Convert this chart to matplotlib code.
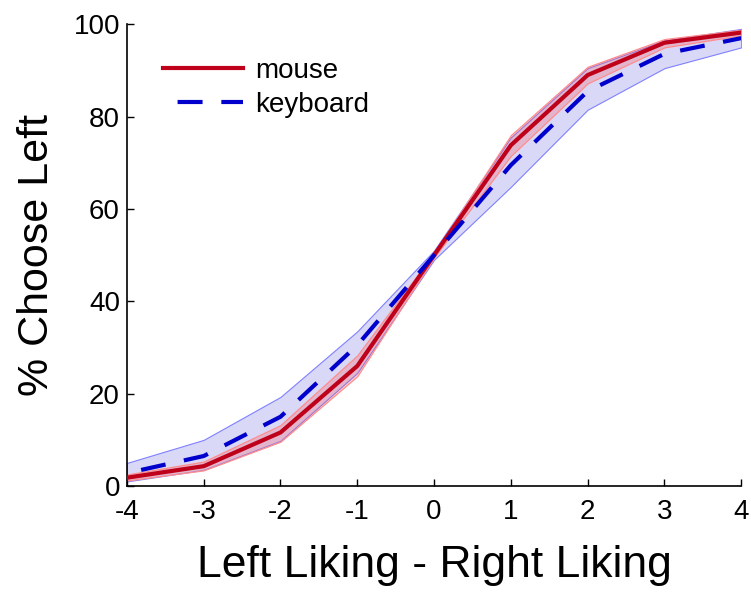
import matplotlib
matplotlib.use("Agg")
import matplotlib.pyplot as plt

plt.rcParams['font.family'] = ['Liberation Sans', 'DejaVu Sans']

x_vals = [-4, -3, -2, -1, 0, 1, 2, 3, 4]

mouse_mean = [1.8, 4.3, 11.6, 26.0, 50.0, 73.8, 89.0, 96.0, 98.2]
mouse_lo = [1.2, 3.4, 9.6, 23.8, 49.5, 71.5, 87.2, 95.0, 97.6]
mouse_hi = [2.5, 5.3, 13.2, 28.3, 50.5, 76.0, 90.8, 96.8, 98.8]

keyboard_mean = [2.8, 6.5, 15.0, 30.5, 50.0, 69.5, 85.5, 93.6, 97.0]
keyboard_lo = [1.0, 3.5, 9.8, 24.5, 49.0, 64.8, 81.5, 90.5, 95.0]
keyboard_hi = [5.0, 10.0, 19.3, 33.5, 51.0, 75.5, 90.5, 96.5, 99.0]

xticks = [-4, -3, -2, -1, 0, 1, 2, 3, 4]
yticks = [0, 20, 40, 60, 80, 100]

fig = plt.figure(figsize=(7.51, 5.92), dpi=100)
ax = fig.add_axes([0.169, 0.179, 0.818, 0.780])

# confidence bands
ax.fill_between(x_vals, keyboard_lo, keyboard_hi, facecolor=(0.85, 0.85, 0.97),
                edgecolor=(0.5, 0.5, 1.0), linewidth=0.8, zorder=1)
ax.fill_between(x_vals, mouse_lo, mouse_hi, facecolor=(1.0, 0.3, 0.3, 0.25),
                edgecolor=(1.0, 0.55, 0.55), linewidth=0.9, zorder=2)

# mean curves
ax.plot(x_vals, mouse_mean, color=(0.75, 0.0, 0.1), linewidth=3, label='mouse', zorder=3)
ax.plot(x_vals, keyboard_mean, color=(0.0, 0.0, 0.8), linewidth=3,
        linestyle=(7, (6, 4.5)), label='keyboard', zorder=4)

ax.set_xlim(-4, 4)
ax.set_ylim(0, 100)
ax.set_xticks(xticks)
ax.set_yticks(yticks)
ax.set_xticklabels([str(t) for t in xticks])
ax.tick_params(direction='in', length=5, width=1, labelsize=20)
ax.tick_params(axis='x', pad=9)
ax.tick_params(axis='y', pad=5)
ax.spines['top'].set_visible(False)
ax.spines['right'].set_visible(False)
ax.spines['left'].set_linewidth(1.2)
ax.spines['bottom'].set_linewidth(1.2)

ax.set_xlabel('Left Liking - Right Liking', fontsize=32, labelpad=15)
ax.set_ylabel('% Choose Left', fontsize=31, labelpad=12)

ax.legend(loc='upper left', frameon=False, fontsize=20, handlelength=2.9,
          handletextpad=0.43, labelspacing=0.3, borderpad=0, borderaxespad=0,
          bbox_to_anchor=(0.0586, 0.928))

fig.savefig('out.png', dpi=100)
